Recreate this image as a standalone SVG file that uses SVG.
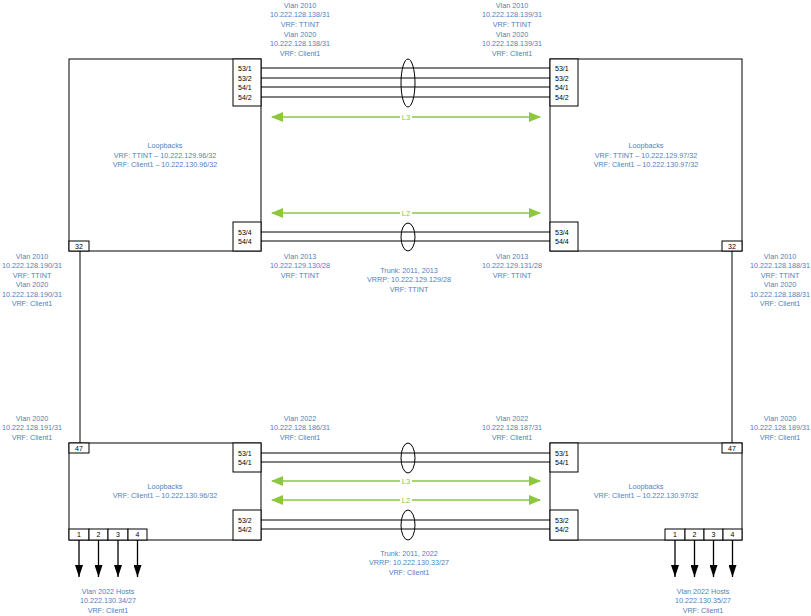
<svg xmlns="http://www.w3.org/2000/svg" width="811" height="616" viewBox="0 0 811 616">
<defs>
<style>
.box{fill:#fff;stroke:#000;stroke-width:1}
.ln{stroke:#000;stroke-width:1;fill:none}
.ell{fill:none;stroke:#000;stroke-width:1}
.g{stroke:#8dc63f;stroke-width:1.4;fill:none}
.t{font-family:"Liberation Sans",Arial,sans-serif;font-size:7.2px;fill:#4f81bd;text-anchor:middle}
.gt{font-family:"Liberation Sans",Arial,sans-serif;font-size:7.5px;fill:#8dc63f;text-anchor:middle}
.p{font-family:"Liberation Sans",Arial,sans-serif;font-size:7px;fill:#000}
.pc{font-family:"Liberation Sans",Arial,sans-serif;font-size:7px;fill:#000;text-anchor:middle}
.arr{stroke:#000;stroke-width:1.3}
</style>
<marker id="ga" viewBox="0 0 12 10" refX="11" refY="5" markerWidth="12" markerHeight="10" markerUnits="userSpaceOnUse" orient="auto-start-reverse">
<path d="M0,0 L12,5 L0,10 Z" fill="#8dc63f"/>
</marker>
<marker id="ba" viewBox="0 0 8 12" refX="4" refY="12" markerWidth="8" markerHeight="12" markerUnits="userSpaceOnUse" orient="0">
<path d="M0,0 L8,0 L4,12 Z" fill="#000"/>
</marker>
</defs>

<!-- Top-left switch -->
<g id="sw-tl">
<rect class="box" x="69" y="59" width="192" height="192"/>
<text class="t" x="165" y="148">Loopbacks</text>
<text class="t" x="165" y="157.5">VRF: TTINT – 10.222.129.96/32</text>
<text class="t" x="165" y="167">VRF: Client1 – 10.222.130.96/32</text>
<rect class="box" x="233" y="59" width="28" height="47"/>
<text class="p" x="238" y="70.5">53/1</text>
<text class="p" x="238" y="80.5">53/2</text>
<text class="p" x="238" y="89.5">54/1</text>
<text class="p" x="238" y="99.5">54/2</text>
<rect class="box" x="233" y="222" width="28" height="29"/>
<text class="p" x="238" y="234.5">53/4</text>
<text class="p" x="238" y="243.5">54/4</text>
<rect class="box" x="69" y="241" width="20" height="10"/>
<text class="pc" x="79" y="248.5">32</text>
</g>

<!-- Top-right switch -->
<g id="sw-tr">
<rect class="box" x="550" y="59" width="192" height="192"/>
<text class="t" x="646" y="148">Loopbacks</text>
<text class="t" x="646" y="157.5">VRF: TTINT – 10.222.129.97/32</text>
<text class="t" x="646" y="167">VRF: Client1 – 10.222.130.97/32</text>
<rect class="box" x="550" y="59" width="28" height="47"/>
<text class="p" x="555" y="70.5">53/1</text>
<text class="p" x="555" y="80.5">53/2</text>
<text class="p" x="555" y="89.5">54/1</text>
<text class="p" x="555" y="99.5">54/2</text>
<rect class="box" x="550" y="222" width="28" height="29"/>
<text class="p" x="555" y="234.5">53/4</text>
<text class="p" x="555" y="243.5">54/4</text>
<rect class="box" x="722" y="241" width="20" height="10"/>
<text class="pc" x="732" y="248.5">32</text>
</g>

<!-- Bottom-left switch -->
<g id="sw-bl">
<rect class="box" x="69" y="443" width="192" height="97"/>
<text class="t" x="165" y="488.5">Loopbacks</text>
<text class="t" x="165" y="498">VRF: Client1 – 10.222.130.96/32</text>
<rect class="box" x="233" y="443" width="28" height="29"/>
<text class="p" x="238" y="455.5">53/1</text>
<text class="p" x="238" y="464.5">54/1</text>
<rect class="box" x="233" y="510" width="28" height="30"/>
<text class="p" x="238" y="522.5">53/2</text>
<text class="p" x="238" y="531.5">54/2</text>
<rect class="box" x="69" y="443" width="20" height="10"/>
<text class="pc" x="79" y="450.5">47</text>
<rect class="box" x="69" y="529" width="20" height="11"/>
<rect class="box" x="89" y="529" width="19" height="11"/>
<rect class="box" x="108" y="529" width="20" height="11"/>
<rect class="box" x="128" y="529" width="19" height="11"/>
<text class="pc" x="79" y="537">1</text>
<text class="pc" x="98.5" y="537">2</text>
<text class="pc" x="118" y="537">3</text>
<text class="pc" x="137.5" y="537">4</text>
</g>

<!-- Bottom-right switch -->
<g id="sw-br">
<rect class="box" x="550" y="443" width="192" height="97"/>
<text class="t" x="646" y="488.5">Loopbacks</text>
<text class="t" x="646" y="498">VRF: Client1 – 10.222.130.97/32</text>
<rect class="box" x="550" y="443" width="28" height="29"/>
<text class="p" x="555" y="455.5">53/1</text>
<text class="p" x="555" y="464.5">54/1</text>
<rect class="box" x="550" y="510" width="28" height="30"/>
<text class="p" x="555" y="522.5">53/2</text>
<text class="p" x="555" y="531.5">54/2</text>
<rect class="box" x="722" y="443" width="20" height="10"/>
<text class="pc" x="732" y="450.5">47</text>
<rect class="box" x="665" y="529" width="20" height="11"/>
<rect class="box" x="685" y="529" width="19" height="11"/>
<rect class="box" x="704" y="529" width="19" height="11"/>
<rect class="box" x="723" y="529" width="19" height="11"/>
<text class="pc" x="675" y="537">1</text>
<text class="pc" x="694.5" y="537">2</text>
<text class="pc" x="713.5" y="537">3</text>
<text class="pc" x="732.5" y="537">4</text>
</g>

<!-- Connectors -->
<g id="connectors">
<line class="ln" x1="261" y1="68" x2="550" y2="68"/>
<line class="ln" x1="261" y1="78" x2="550" y2="78"/>
<line class="ln" x1="261" y1="87" x2="550" y2="87"/>
<line class="ln" x1="261" y1="97" x2="550" y2="97"/>
<ellipse class="ell" cx="408" cy="83" rx="7" ry="24"/>
<line class="ln" x1="261" y1="232" x2="550" y2="232"/>
<line class="ln" x1="261" y1="241" x2="550" y2="241"/>
<ellipse class="ell" cx="408" cy="237" rx="7" ry="14"/>
<line class="ln" x1="80" y1="251" x2="80" y2="443"/>
<line class="ln" x1="732" y1="251" x2="732" y2="443"/>
<line class="ln" x1="261" y1="453" x2="550" y2="453"/>
<line class="ln" x1="261" y1="462" x2="550" y2="462"/>
<ellipse class="ell" cx="408" cy="458" rx="7" ry="15"/>
<line class="ln" x1="261" y1="520" x2="550" y2="520"/>
<line class="ln" x1="261" y1="529" x2="550" y2="529"/>
<ellipse class="ell" cx="408" cy="525" rx="7" ry="15"/>
<line class="g" x1="272" y1="117" x2="540" y2="117" marker-start="url(#ga)" marker-end="url(#ga)"/>
<line class="g" x1="272" y1="213" x2="540" y2="213" marker-start="url(#ga)" marker-end="url(#ga)"/>
<line class="g" x1="272" y1="481" x2="540" y2="481" marker-start="url(#ga)" marker-end="url(#ga)"/>
<line class="g" x1="272" y1="500" x2="540" y2="500" marker-start="url(#ga)" marker-end="url(#ga)"/>
<rect x="400" y="112" width="12" height="9" fill="#fff"/>
<text class="gt" x="406" y="119.5">L3</text>
<rect x="400" y="208" width="12" height="9" fill="#fff"/>
<text class="gt" x="406" y="215.5">L2</text>
<rect x="400" y="476" width="12" height="9" fill="#fff"/>
<text class="gt" x="406" y="483.5">L3</text>
<rect x="400" y="495" width="12" height="9" fill="#fff"/>
<text class="gt" x="406" y="502.5">L2</text>
<line class="arr" x1="79" y1="540" x2="79" y2="577" marker-end="url(#ba)"/>
<line class="arr" x1="98.5" y1="540" x2="98.5" y2="577" marker-end="url(#ba)"/>
<line class="arr" x1="118" y1="540" x2="118" y2="577" marker-end="url(#ba)"/>
<line class="arr" x1="137.5" y1="540" x2="137.5" y2="577" marker-end="url(#ba)"/>
<line class="arr" x1="675" y1="540" x2="675" y2="577" marker-end="url(#ba)"/>
<line class="arr" x1="694.5" y1="540" x2="694.5" y2="577" marker-end="url(#ba)"/>
<line class="arr" x1="713.5" y1="540" x2="713.5" y2="577" marker-end="url(#ba)"/>
<line class="arr" x1="732.5" y1="540" x2="732.5" y2="577" marker-end="url(#ba)"/>
</g>

<!-- Labels -->
<g id="labels">
<text class="t" x="300" y="7.5">Vlan 2010</text>
<text class="t" x="300" y="17.2">10.222.128.138/31</text>
<text class="t" x="300" y="26.9">VRF: TTINT</text>
<text class="t" x="300" y="36.6">Vlan 2020</text>
<text class="t" x="300" y="46.3">10.222.128.138/31</text>
<text class="t" x="300" y="56">VRF: Client1</text>

<text class="t" x="512" y="7.5">Vlan 2010</text>
<text class="t" x="512" y="17.2">10.222.128.139/31</text>
<text class="t" x="512" y="26.9">VRF: TTINT</text>
<text class="t" x="512" y="36.6">Vlan 2020</text>
<text class="t" x="512" y="46.3">10.222.128.139/31</text>
<text class="t" x="512" y="56">VRF: Client1</text>

<text class="t" x="300" y="258.5">Vlan 2013</text>
<text class="t" x="300" y="268">10.222.129.130/28</text>
<text class="t" x="300" y="277.5">VRF: TTINT</text>
<text class="t" x="512" y="258.5">Vlan 2013</text>
<text class="t" x="512" y="268">10.222.129.131/28</text>
<text class="t" x="512" y="277.5">VRF: TTINT</text>
<text class="t" x="409" y="272.5">Trunk: 2011, 2013</text>
<text class="t" x="409" y="282">VRRP: 10.222.129.129/28</text>
<text class="t" x="409" y="291.5">VRF: TTINT</text>

<text class="t" x="32" y="258.5">Vlan 2010</text>
<text class="t" x="32" y="268">10.222.128.190/31</text>
<text class="t" x="32" y="277.5">VRF: TTINT</text>
<text class="t" x="32" y="287">Vlan 2020</text>
<text class="t" x="32" y="296.5">10.222.128.190/31</text>
<text class="t" x="32" y="306">VRF: Client1</text>

<text class="t" x="780" y="258.5">Vlan 2010</text>
<text class="t" x="780" y="268">10.222.128.188/31</text>
<text class="t" x="780" y="277.5">VRF: TTINT</text>
<text class="t" x="780" y="287">Vlan 2020</text>
<text class="t" x="780" y="296.5">10.222.128.188/31</text>
<text class="t" x="780" y="306">VRF: Client1</text>

<text class="t" x="32" y="420.5">Vlan 2020</text>
<text class="t" x="32" y="430">10.222.128.191/31</text>
<text class="t" x="32" y="439.5">VRF: Client1</text>
<text class="t" x="780" y="420.5">Vlan 2020</text>
<text class="t" x="780" y="430">10.222.128.189/31</text>
<text class="t" x="780" y="439.5">VRF: Client1</text>

<text class="t" x="300" y="420.5">Vlan 2022</text>
<text class="t" x="300" y="430">10.222.128.186/31</text>
<text class="t" x="300" y="439.5">VRF: Client1</text>
<text class="t" x="512" y="420.5">Vlan 2022</text>
<text class="t" x="512" y="430">10.222.128.187/31</text>
<text class="t" x="512" y="439.5">VRF: Client1</text>

<text class="t" x="409" y="555.5">Trunk: 2011, 2022</text>
<text class="t" x="409" y="565">VRRP: 10.222.130.33/27</text>
<text class="t" x="409" y="574.5">VRF: Client1</text>

<text class="t" x="108" y="593.5">Vlan 2022 Hosts</text>
<text class="t" x="108" y="603">10.222.130.34/27</text>
<text class="t" x="108" y="612.5">VRF: Client1</text>
<text class="t" x="703" y="593.5">Vlan 2022 Hosts</text>
<text class="t" x="703" y="603">10.222.130.35/27</text>
<text class="t" x="703" y="612.5">VRF: Client1</text>
</g>
</svg>
